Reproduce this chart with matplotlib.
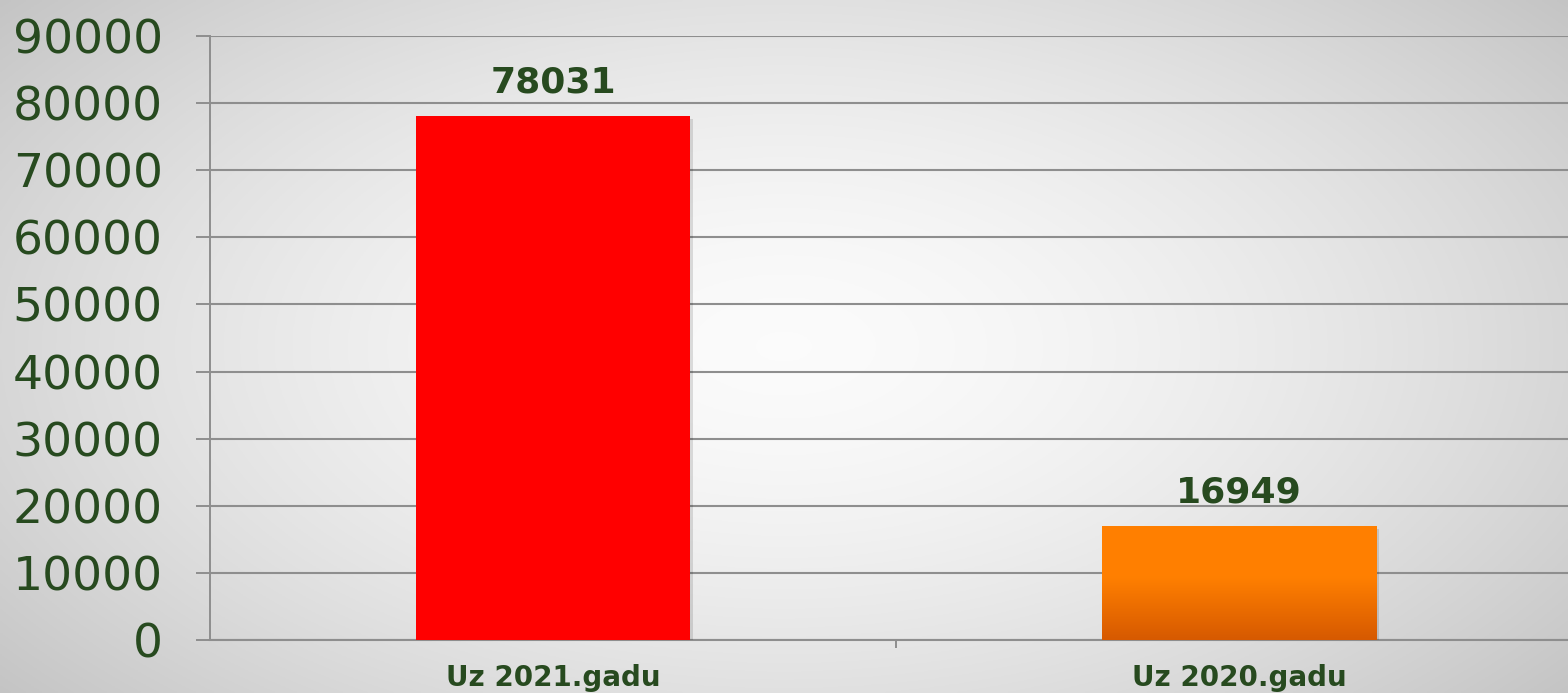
import numpy as np
import matplotlib
matplotlib.use("Agg")
import matplotlib.pyplot as plt
from matplotlib import patheffects as pe

categories = ["Uz 2021.gadu", "Uz 2020.gadu"]
values = [78031, 16949]
value_labels = ["78031", "16949"]
yticks = [0, 10000, 20000, 30000, 40000, 50000, 60000, 70000, 80000, 90000]

TXT = "#274a1f"
GRID = "#8e8e8e"

W, H = 1568, 693
fig = plt.figure(figsize=(W / 100, H / 100), dpi=100)

# background radial gradient
bg = fig.add_axes([0, 0, 1, 1], zorder=-10)
yy, xx = np.mgrid[0:1:300j, 0:1:600j]
r = np.sqrt(((xx - 0.5) / 0.62) ** 2 + ((yy - 0.5) / 0.75) ** 2)
val = np.clip(0.985 - 0.20 * r ** 1.6, 0, 1)
bg.imshow(np.dstack([val, val, val]), extent=[0, 1, 0, 1], aspect="auto", origin="lower")
bg.set_axis_off()

ax = fig.add_axes([210 / W, 53 / H, (W - 210) / W, 604 / H])
ax.patch.set_alpha(0)

x = np.arange(len(categories))
bars = ax.bar(x, values, width=0.4, color=["#ff0000", "#ff8000"], zorder=3)
for b in bars:
    b.set_path_effects([pe.SimplePatchShadow(offset=(2, -2), shadow_rgbFace="#000000", alpha=0.12), pe.Normal()])

# gradient on the orange bar
ob = bars[1]
grad = np.linspace(0, 1, 256)
t = np.clip((0.55 - grad) / 0.55, 0, 1)  # 0 at top half, 1 at bottom
top = np.array([1.0, 0.5, 0.0])
bot = np.array([0.84, 0.35, 0.0])
cols = top[None, :] * (1 - t[:, None]) + bot[None, :] * t[:, None]
img = np.repeat(cols[:, None, :], 2, axis=1)
im = ax.imshow(img, extent=[ob.get_x(), ob.get_x() + ob.get_width(), 0, ob.get_height()],
               origin="lower", aspect="auto", zorder=4)
im.set_clip_path(ob)

ax.set_xlim(-0.5, -0.5 + (W - 210) / 686)
ax.set_ylim(0, 90000)
ax.set_yticks(yticks)
ax.set_yticklabels([str(v) for v in yticks])
ax.tick_params(axis="y", length=10, width=1.4, color=GRID, labelsize=34, labelcolor=TXT, pad=24)

ax.set_xticks([0.5])
ax.set_xticklabels([])
ax.set_xticks(x, minor=True)
ax.set_xticklabels(categories, minor=True, fontsize=20, fontweight="bold", color=TXT)
ax.tick_params(axis="x", which="major", length=6, width=1.4, color=GRID)
ax.tick_params(axis="x", which="minor", length=0, pad=17)

ax.grid(axis="y", color=GRID, linewidth=1.5, zorder=0)
ax.set_axisbelow(True)
for s in ["top", "right"]:
    ax.spines[s].set_visible(False)
ax.spines["left"].set_color(GRID)
ax.spines["left"].set_linewidth(1.4)
ax.spines["bottom"].set_color(GRID)
ax.spines["bottom"].set_linewidth(1.5)

for b, lab in zip(bars, value_labels):
    ax.annotate(lab, (b.get_x() + b.get_width() / 2, b.get_height()), xytext=(0, 17),
                textcoords="offset points", ha="center", va="baseline",
                fontsize=26, fontweight="bold", color=TXT, zorder=5)

fig.savefig("out.png", dpi=100)
